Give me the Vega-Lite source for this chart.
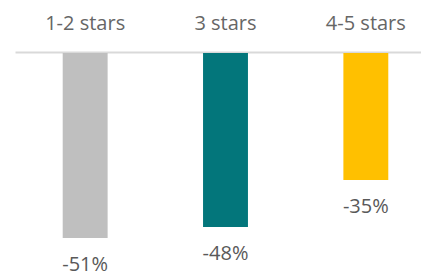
{
  "$schema": "https://vega.github.io/schema/vega-lite/v6.json",
  "autosize": "none",
  "padding": {"left": 15, "top": 53, "right": 0, "bottom": 0},
  "width": 421,
  "height": 222,
  "background": "white",
  "config": {"view": {"stroke": null}, "font": "Open Sans"},
  "data": {"values": [
    {"rating": "1-2 stars", "change": -51, "label": "-51%"},
    {"rating": "3 stars", "change": -48, "label": "-48%"},
    {"rating": "4-5 stars", "change": -35, "label": "-35%"}
  ]},
  "encoding": {
    "x": {"field": "rating", "type": "nominal", "sort": null,
      "scale": {"paddingInner": 0.68, "paddingOuter": 0.34},
      "axis": {"orient": "top", "title": null, "ticks": false, "tickSize": 0, "labelPadding": 19, "labelAngle": 0,
        "labelFont": "Open Sans", "labelFontSize": 20, "labelColor": "#666666",
        "domainColor": "#D9D9D9", "domainWidth": 2, "offset": 1, "grid": false}}
  },
  "layer": [
    {
      "mark": {"type": "bar"},
      "encoding": {
        "y": {"field": "change", "type": "quantitative", "scale": {"domain": [-61.24, 0], "nice": false, "zero": true}, "axis": null},
        "color": {"field": "rating", "type": "nominal", "sort": null,
          "scale": {"range": ["#BFBFBF", "#03767B", "#FFC000"]}, "legend": null}
      }
    },
    {
      "mark": {"type": "text", "baseline": "middle", "dy": 27, "font": "Open Sans", "fontSize": 20, "color": "#595959"},
      "encoding": {
        "y": {"field": "change", "type": "quantitative"},
        "text": {"field": "label"}
      }
    }
  ]
}
